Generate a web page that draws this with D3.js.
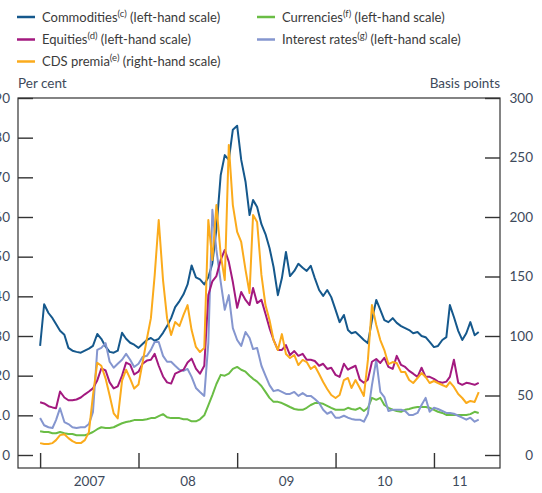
<!DOCTYPE html>
<html>
<head>
<meta charset="utf-8">
<script src="https://cdn.jsdelivr.net/npm/d3@7"></script>
<style>
  body { margin: 0; background: #fff; }
  svg { display: block; font-family: Lato, "Noto Sans", sans-serif; }
</style>
</head>
<body>
<div class="graph"></div>
<script>
// semi-monthly readings (1st and 16th of each month), Jan 2007 - Jun 2011
var commodities = [27.5, 38, 35.8, 34.5, 33, 31.3, 30.3, 27, 26.3, 26,
    25.8, 26.3, 26.8, 27.5, 30.5, 29.3, 27.3, 26, 25.8, 26.3,
    30.8, 29.3, 28.3, 27.8, 27, 28, 29, 29.5, 28.8, 29.3,
    30.8, 32.5, 34.5, 37.3, 38.8, 40.5, 43, 47.8, 44.8, 44.3,
    43, 44.8, 48.3, 57, 70.6, 75.6, 74.4, 82, 83, 74.4,
    68.9, 60.5, 64.3, 62.5, 58.2, 55.7, 52.2, 47.4, 40.3, 44.6,
    51.2, 45.1, 46.4, 48.2, 47.2, 46.4, 47.7, 44.6, 41.6, 40.1,
    41.6, 39.8, 36.6, 33.5, 35.3, 31.5, 30.7, 31, 30, 29,
    28.2, 34, 39.1, 36.6, 34, 33.5, 34.5, 33.3, 32.5, 32,
    31.5, 30.7, 31, 30, 29.7, 28.5, 27.2, 27.5, 29, 29.7,
    37.8, 34.8, 31.3, 29, 30.7, 33.5, 30.2, 31];
var equities = [13.3, 13, 12.3, 12, 11.8, 16, 14.5, 13.8, 13.8, 14,
    14.5, 15.3, 16, 16.8, 18.8, 21.8, 21.3, 18.3, 16.8, 17.3,
    20, 23.3, 22.8, 20.3, 21, 23, 23.8, 24, 25.5, 22.5,
    19.8, 18.3, 18, 20.5, 21, 21.5, 23.3, 24.3, 21.8, 20.5,
    22.5, 40.3, 43.8, 45.1, 49.2, 51.7, 48.7, 43.6, 37.1, 41.1,
    39.1, 37.8, 42.1, 38.3, 39.1, 35.6, 32, 29, 26.5, 26.5,
    27.7, 25.2, 26.2, 25, 25.5, 24, 24, 23.7, 22.5, 23,
    21.7, 22, 20.2, 19.7, 23, 21.5, 22, 22.5, 19, 18.2,
    19, 23.5, 24.2, 23.2, 24.5, 22.2, 21.7, 25, 22.7, 22.2,
    21.2, 20.5, 19.7, 22, 19.7, 19.7, 19.2, 18.5, 18.2, 18.5,
    19.7, 24, 18.2, 17.7, 18.2, 18, 17.7, 18.2];
var cdsPremia = [10, 9.2, 9.2, 10, 12.5, 16.7, 17.5, 14.2, 11.7, 10,
    10, 12.5, 19.2, 50, 77.5, 75, 64.2, 50, 35, 30.8,
    62.5, 71.7, 64.2, 55.8, 59.2, 77.5, 97.5, 115, 151, 197.5,
    147, 115, 100.8, 111.7, 108.4, 117.7, 126, 105, 90.8, 86.5,
    90, 197.5, 163.9, 210, 168.1, 147, 260.5, 210, 187.4, 179,
    155.5, 136.1, 201.7, 195.8, 151.3, 126, 113.4, 96.6, 88.2, 101.6,
    84.9, 81.5, 84, 75.6, 79.9, 78.1, 72.3, 74.8, 68.1, 61.3,
    55.5, 50.4, 47.9, 50.4, 63, 64.7, 56.3, 63, 56.3, 49.6,
    79.9, 126, 109.2, 96.6, 88.2, 76.4, 78.1, 77.3, 69.8, 69.8,
    63, 60.5, 64.7, 68.9, 65.5, 60.5, 62.2, 60.5, 58.8, 57.2,
    61.3, 57.2, 51.2, 47.9, 43.7, 45.4, 44.6, 52.9];
var currencies = [6, 5.8, 5.8, 5.5, 5.5, 5.8, 5.5, 5.3, 5.3, 5,
    5, 5, 5.3, 5.8, 6.5, 7, 6.8, 6.8, 7, 7.5,
    8, 8.3, 8.5, 8.8, 8.8, 8.8, 9, 9.3, 9.3, 9.8,
    10.3, 9.5, 9.3, 9.3, 9.3, 9, 9, 8.5, 8.5, 9,
    10, 12.5, 15.1, 17.9, 20.2, 20, 20.5, 21.7, 22.2, 21.5,
    21, 20, 19.2, 18.5, 17.4, 15.9, 14.4, 13.4, 13.4, 13.1,
    12.6, 12.1, 11.6, 11.4, 11.4, 11.9, 12.6, 13.1, 13.1, 12.9,
    12.4, 11.9, 11.4, 11.4, 11.4, 11.9, 11.6, 11.4, 11.9, 11.1,
    11.9, 14.4, 13.9, 14.4, 12.6, 11.9, 11.4, 11.1, 10.9, 11.4,
    11.6, 11.9, 12.1, 12.1, 12.1, 11.9, 11.4, 10.9, 10.6, 10.1,
    10.1, 10.1, 10.1, 10.1, 10.1, 10.3, 10.9, 10.6];
var interestRates = [9.3, 7.5, 7, 6.8, 8.8, 11.8, 8.3, 7.8, 7, 6.8,
    7, 7, 7.8, 10.8, 26.5, 27, 28.2, 23.5, 22, 23,
    24, 25.5, 24, 22.2, 23, 24.7, 25, 26.5, 28.5, 28.5,
    25, 23.5, 23.5, 22.5, 21.5, 21.2, 21.7, 19.7, 16.9, 15.9,
    14.9, 28.2, 61.8, 51.7, 43.6, 36.6, 40.3, 32, 29, 27.5,
    31, 29.5, 26.7, 27, 22.5, 20, 17.6, 16.1, 16.4, 15.9,
    15.4, 15.4, 15.9, 14.9, 15.6, 14.9, 14.9, 14.1, 13.1, 11.4,
    10.4, 10.9, 9.4, 9.4, 9.9, 9.4, 9.1, 8.9, 8.9, 8.4,
    10.4, 17.6, 24, 15.9, 14.6, 11.1, 11.4, 11.4, 11.4, 11.1,
    10.1, 10.1, 10.6, 12.6, 14.4, 10.9, 11.9, 11.6, 11.1, 10.6,
    10.6, 10.4, 9.9, 9.4, 8.9, 9.4, 8.4, 8.9];

var firstMonth = '2007-01-01', endMonth = '2011-07-01';
var domainStart = '2006-10-11', domainEnd = '2011-09-03';
var yearTicks = ['2007-01-01', '2008-01-01', '2009-01-01', '2010-01-01', '2011-01-01'];
var yearLabels = ['2007', '08', '09', '10', '11'];
var yearLabelDates = ['2007-07-01', '2008-07-01', '2009-07-01', '2010-07-01', '2011-04-05'];
var leftTicks = [0, 10, 20, 30, 40, 50, 60, 70, 80, 90];
var rightTicks = [0, 50, 100, 150, 200, 250, 300];

var seriesNames = ['Commodities', 'Equities', 'CDS premia', 'Currencies', 'Interest rates'];
var seriesNotes = ['(c)', '(d)', '(e)', '(f)', '(g)'];
var seriesScales = ['(left-hand scale)', '(left-hand scale)', '(right-hand scale)', '(left-hand scale)', '(left-hand scale)'];
var seriesValues = [commodities, equities, cdsPremia, currencies, interestRates];
var seriesColors = ['#15588c', '#a3197f', '#fbab1c', '#6abd45', '#8596cf'];
var seriesAxis = ['left', 'left', 'right', 'left', 'left'];

var width = 542, height = 493;
var plot = {left: 18, right: 500, top: 98, bottom: 468, zero: 455};
var textColor = '#3e4a5b';

var parse = d3.utcParse('%Y-%m-%d');
var dates = d3.utcMonth.range(parse(firstMonth), parse(endMonth))
    .flatMap((m) => [m, d3.utcDay.offset(m, 15)]);

var svg = d3.select('div.graph')
    .append('svg')
        .attr('width', width)
        .attr('height', height);

var x = d3.scaleUtc()
    .domain([parse(domainStart), parse(domainEnd)])
    .range([plot.left, plot.right]);

var yLeft = d3.scaleLinear()
    .domain([0, 90])
    .range([plot.zero, plot.top]);

var yRight = d3.scaleLinear()
    .domain([0, 300])
    .range([plot.zero, plot.top]);

// frame
svg.append('rect')
    .attr('x', plot.left)
    .attr('y', plot.top)
    .attr('width', plot.right - plot.left)
    .attr('height', plot.bottom - plot.top)
    .attr('fill', 'none')
    .attr('stroke', '#333')
    .attr('stroke-width', 1.2);

function styleAxis(g) {
    g.select('.domain').remove();
    g.selectAll('.tick line')
        .attr('stroke', '#333')
        .attr('stroke-width', 1.4);
    g.selectAll('text')
        .attr('fill', textColor)
        .style('font-size', '13.5px')
        .style('font-family', 'Lato, "Noto Sans", sans-serif');
}

svg.append('g')
    .attr('class', 'y axis left')
    .attr('transform', 'translate(' + plot.left + ',0)')
    .call(d3.axisLeft(yLeft).tickValues(leftTicks).tickSize(-15).tickPadding(8))
    .call(styleAxis);

svg.append('g')
    .attr('class', 'y axis right')
    .attr('transform', 'translate(' + plot.right + ',0)')
    .call(d3.axisRight(yRight).tickValues(rightTicks).tickSize(-15))
    .call(styleAxis)
    .selectAll('text')
        .attr('text-anchor', 'end')
        .attr('x', 33);

svg.append('g')
    .attr('class', 'x axis')
    .attr('transform', 'translate(0,' + plot.bottom + ')')
    .call(d3.axisBottom(x).tickValues(yearTicks.map(parse)).tickSize(-15).tickFormat(''))
    .call(styleAxis);

svg.append('g')
    .attr('class', 'x labels')
    .attr('transform', 'translate(0,' + plot.bottom + ')')
    .call(d3.axisBottom(x).tickValues(yearLabelDates.map(parse)).tickSize(0).tickPadding(8)
        .tickFormat((d, i) => yearLabels[i]))
    .call(styleAxis);

svg.append('text')
    .attr('x', plot.left)
    .attr('y', 88)
    .attr('fill', textColor)
    .style('font-size', '13.5px')
    .text('Per cent');

svg.append('text')
    .attr('x', plot.right)
    .attr('y', 88)
    .attr('text-anchor', 'end')
    .attr('fill', textColor)
    .style('font-size', '13.5px')
    .text('Basis points');

// series
var drawOrder = [0, 3, 4, 1, 2];
drawOrder.forEach((s) => {
    var y = seriesAxis[s] === 'left' ? yLeft : yRight;
    var line = d3.line()
        .x((d, i) => x(dates[i]))
        .y((d) => y(d));
    svg.append('path')
        .datum(seriesValues[s])
        .attr('class', 'series')
        .attr('d', line)
        .attr('fill', 'none')
        .attr('stroke', seriesColors[s])
        .attr('stroke-width', 2)
        .attr('stroke-linejoin', 'round');
});

// legend
var legendCols = [17, 257];
var legendRows = [17, 39.5, 61.5];
seriesNames.forEach((name, s) => {
    var col = s < 3 ? 0 : 1;
    var row = s < 3 ? s : s - 3;
    var g = svg.append('g')
        .attr('transform', 'translate(' + legendCols[col] + ',' + legendRows[row] + ')');
    g.append('line')
        .attr('x1', 0)
        .attr('x2', 18)
        .attr('stroke', seriesColors[s])
        .attr('stroke-width', 2.5);
    var t = g.append('text')
        .attr('x', 25)
        .attr('y', 4.5)
        .attr('fill', '#3a3a3a')
        .style('font-size', '13px');
    t.append('tspan').text(name);
    t.append('tspan').attr('dy', -5).style('font-size', '9.5px').text(seriesNotes[s]);
    t.append('tspan').attr('dy', 5).text(' ' + seriesScales[s]);
});
</script>
</body>
</html>
